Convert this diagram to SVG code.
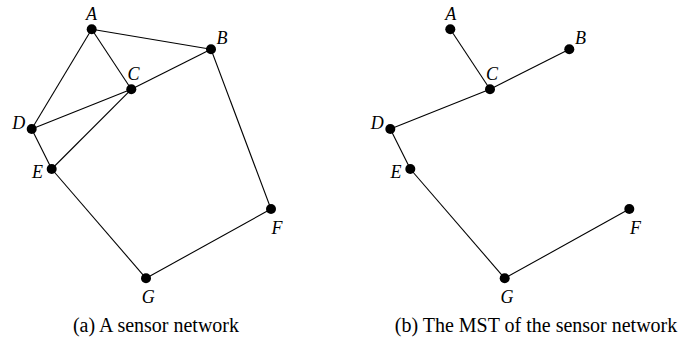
<svg xmlns="http://www.w3.org/2000/svg" width="682" height="339" viewBox="0 0 682 339">
<style>
.e{stroke:#000;stroke-width:1.1;fill:none}
.n{fill:#000}
.l{font-family:"Liberation Serif","Times New Roman",serif;font-style:italic;font-size:18px;text-anchor:middle;fill:#000}
.c{font-family:"Liberation Serif","Times New Roman",serif;font-size:20px;text-anchor:middle;fill:#000}
</style>
<rect width="682" height="339" fill="#fff"/>
<g id="connectors-a">
<line class="e" x1="91.7" y1="29.3" x2="211" y2="49.3"/>
<line class="e" x1="91.7" y1="29.3" x2="131.3" y2="89.3"/>
<line class="e" x1="91.7" y1="29.3" x2="31.7" y2="129"/>
<line class="e" x1="211" y1="49.3" x2="131.3" y2="89.3"/>
<line class="e" x1="211" y1="49.3" x2="271" y2="209"/>
<line class="e" x1="131.3" y1="89.3" x2="31.7" y2="129"/>
<line class="e" x1="131.3" y1="89.3" x2="51.7" y2="169"/>
<line class="e" x1="31.7" y1="129" x2="51.7" y2="169"/>
<line class="e" x1="51.7" y1="169" x2="146" y2="278.3"/>
<line class="e" x1="146" y1="278.3" x2="271" y2="209"/>
</g>
<g id="a-A"><circle class="n" cx="91.7" cy="29.3" r="5"/><text class="l" x="91.5" y="20">A</text></g>
<g id="a-B"><circle class="n" cx="211" cy="49.3" r="5"/><text class="l" x="222" y="44">B</text></g>
<g id="a-C"><circle class="n" cx="131.3" cy="89.3" r="5"/><text class="l" x="133.5" y="80">C</text></g>
<g id="a-D"><circle class="n" cx="31.7" cy="129" r="5"/><text class="l" x="18.7" y="129">D</text></g>
<g id="a-E"><circle class="n" cx="51.7" cy="169" r="5"/><text class="l" x="37.5" y="178">E</text></g>
<g id="a-F"><circle class="n" cx="271" cy="209" r="5"/><text class="l" x="277" y="234">F</text></g>
<g id="a-G"><circle class="n" cx="146" cy="278.3" r="5"/><text class="l" x="148.3" y="303">G</text></g>
<text class="c" x="156" y="332">(a) A sensor network</text>

<g id="connectors-b">
<line class="e" x1="450.3" y1="29.3" x2="490" y2="89.3"/>
<line class="e" x1="569.3" y1="49.3" x2="490" y2="89.3"/>
<line class="e" x1="490" y1="89.3" x2="390.3" y2="129"/>
<line class="e" x1="390.3" y1="129" x2="410.3" y2="169"/>
<line class="e" x1="410.3" y1="169" x2="504.7" y2="278.3"/>
<line class="e" x1="504.7" y1="278.3" x2="629.3" y2="209"/>
</g>
<g id="b-A"><circle class="n" cx="450.3" cy="29.3" r="5"/><text class="l" x="450.8" y="20">A</text></g>
<g id="b-B"><circle class="n" cx="569.3" cy="49.3" r="5"/><text class="l" x="580.5" y="44">B</text></g>
<g id="b-C"><circle class="n" cx="490" cy="89.3" r="5"/><text class="l" x="492" y="80">C</text></g>
<g id="b-D"><circle class="n" cx="390.3" cy="129" r="5"/><text class="l" x="377.3" y="129">D</text></g>
<g id="b-E"><circle class="n" cx="410.3" cy="169" r="5"/><text class="l" x="396" y="178">E</text></g>
<g id="b-F"><circle class="n" cx="629.3" cy="209" r="5"/><text class="l" x="635.5" y="234">F</text></g>
<g id="b-G"><circle class="n" cx="504.7" cy="278.3" r="5"/><text class="l" x="507" y="303">G</text></g>
<text class="c" x="536" y="332">(b) The MST of the sensor network</text>
</svg>
